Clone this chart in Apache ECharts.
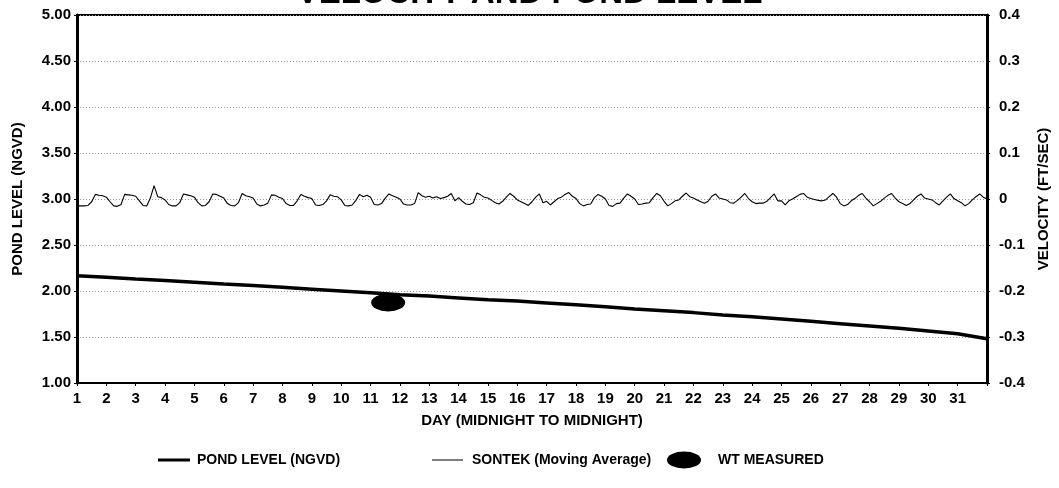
<!DOCTYPE html>
<html>
<head>
<meta charset="utf-8">
<script src="https://cdn.jsdelivr.net/npm/echarts@6/dist/echarts.min.js"></script>
<style>
html,body{margin:0;padding:0;background:#fff;}
#chart{width:1059px;height:488px;}
</style>
</head>
<body>
<div id="chart"></div>
<script>
// ---- data ----
const dayTicks = [1,2,3,4,5,6,7,8,9,10,11,12,13,14,15,16,17,18,19,20,21,22,23,24,25,26,27,28,29,30,31];
// pond level (NGVD) at midnight of each day, day 1 .. day 32 (end of day 31)
const pondDays = [1,2,3,4,5,6,7,8,9,10,11,12,13,14,15,16,17,18,19,20,21,22,23,24,25,26,27,28,29,30,31,32];
const pondLevel = [2.165,2.15,2.13,2.115,2.095,2.075,2.06,2.04,2.02,2.0,1.98,1.96,1.945,1.925,1.905,1.89,
                   1.87,1.85,1.83,1.805,1.785,1.765,1.74,1.72,1.695,1.67,1.645,1.62,1.595,1.565,1.535,1.48];
// SONTEK moving-average velocity (ft/sec), 8 readings per day (every 3 h), day 1 00:00 .. day 32 00:00
const sontekStep = 0.125;
const sontekVelocity = [
 -0.015,-0.015,-0.015,-0.014,-0.006, 0.010, 0.008, 0.007,   // day 1
  0.004,-0.006,-0.015,-0.016,-0.012, 0.010, 0.009, 0.008,   // day 2
  0.006,-0.004,-0.014,-0.015, 0.002, 0.029, 0.005, 0.003,   // day 3
 -0.002,-0.012,-0.015,-0.015,-0.008, 0.011, 0.009, 0.007,   // day 4
  0.004,-0.008,-0.015,-0.014,-0.006, 0.011, 0.010, 0.006,   // day 5
  0.002,-0.010,-0.014,-0.015,-0.008, 0.012, 0.007, 0.005,   // day 6
  0.002,-0.011,-0.015,-0.013,-0.009, 0.009, 0.008, 0.004,   // day 7
  0.001,-0.010,-0.014,-0.014,-0.004, 0.010, 0.006, 0.003,   // day 8
  0.001,-0.013,-0.014,-0.012,-0.004, 0.009, 0.006, 0.005,   // day 9
 -0.002,-0.014,-0.015,-0.013,-0.003, 0.010, 0.005, 0.008,   // day 10
  0.004,-0.012,-0.013,-0.010, 0.002, 0.011, 0.007, 0.004,   // day 11
  0.000,-0.011,-0.013,-0.013,-0.010, 0.014, 0.007, 0.004,   // day 12
  0.006, 0.002, 0.005, 0.001, 0.003, 0.006, 0.012,-0.004,   // day 13
  0.003,-0.005,-0.011,-0.012,-0.008, 0.013, 0.009, 0.004,   // day 14
  0.002,-0.003,-0.008,-0.011,-0.005, 0.004, 0.012, 0.006,   // day 15
 -0.002,-0.006,-0.010,-0.014,-0.006, 0.004, 0.011,-0.008,   // day 16
 -0.005,-0.013,-0.006, 0.001, 0.004, 0.010, 0.014, 0.006,   // day 17
  0.001,-0.010,-0.015,-0.012,-0.011, 0.003, 0.010, 0.006,   // day 18
  0.000,-0.014,-0.016,-0.010,-0.009, 0.002, 0.011, 0.006,   // day 19
  0.000,-0.012,-0.011,-0.009,-0.008, 0.003, 0.012, 0.007,   // day 20
 -0.005,-0.015,-0.010,-0.004,-0.002, 0.006, 0.013, 0.005,   // day 21
  0.002,-0.002,-0.006,-0.009,-0.005, 0.006, 0.011, 0.002,   // day 22
  0.000,-0.002,-0.008,-0.009,-0.003, 0.004, 0.012, 0.001,   // day 23
 -0.006,-0.010,-0.009,-0.009,-0.005, 0.003, 0.011,-0.004,   // day 24
 -0.004,-0.013,-0.004, 0.000, 0.005, 0.010, 0.012, 0.004,   // day 25
  0.001,-0.001,-0.003,-0.004,-0.002, 0.005, 0.012, 0.004,   // day 26
 -0.010,-0.015,-0.012,-0.004, 0.001, 0.008, 0.012, 0.002,   // day 27
 -0.006,-0.015,-0.010,-0.005, 0.002, 0.008, 0.012, 0.002,   // day 28
 -0.006,-0.010,-0.014,-0.010,-0.002, 0.006, 0.011, 0.002,   // day 29
  0.000,-0.002,-0.008,-0.013,-0.004, 0.004, 0.011, 0.001,   // day 30
 -0.004,-0.008,-0.015,-0.010,-0.002, 0.005, 0.011, 0.004,   // day 31
  0.000                                                     // day 32 00:00
];
// WT measured point
const wtDay = [11.6];
const wtLevel = [1.875];

const titleText = 'VELOCITY AND POND LEVEL';
const legendNames = ['POND LEVEL (NGVD)', 'SONTEK (Moving Average)', 'WT MEASURED'];

// ---- build series data ----
const pondData = pondDays.map((d, i) => [d, pondLevel[i]]);
const sontekData = sontekVelocity.map((v, i) => [dayTicks[0] + i * sontekStep, v]);
const wtData = wtDay.map((d, i) => [d, wtLevel[i]]);

const FONT = '"Liberation Sans", Arial, Helvetica, sans-serif';
const tickLbl = {color: '#000', fontWeight: 'bold', fontSize: 15, fontFamily: FONT};
const nameLbl = {color: '#000', fontWeight: 'bold', fontSize: 15, fontFamily: FONT};

const chart = echarts.init(document.getElementById('chart'), null, {renderer: 'canvas'});
chart.setOption({
  animation: false,
  backgroundColor: '#fff',
  title: {
    text: titleText, left: 'center', top: -23, padding: 0,
    textStyle: {fontSize: 33, fontWeight: 'bold', color: '#000', fontFamily: FONT}
  },
  grid: {left: 77, right: 72, top: 15, bottom: 105, containLabel: false, outerBoundsMode: 'none',
         show: true, borderColor: '#000', borderWidth: 2, backgroundColor: 'transparent'},
  xAxis: {
    type: 'value', min: 1, max: 32, interval: 1,
    name: 'DAY (MIDNIGHT TO MIDNIGHT)', nameLocation: 'middle', nameGap: 30,
    nameTextStyle: nameLbl,
    axisLine: {show: true, onZero: false, lineStyle: {color: '#000', width: 2}},
    axisTick: {show: true, length: 3, lineStyle: {color: '#000'}},
    axisLabel: Object.assign({margin: 8, formatter: v => (v <= 31 ? String(v) : '')}, tickLbl),
    splitLine: {show: false}
  },
  yAxis: [
    {
      type: 'value', min: 1, max: 5, interval: 0.5, position: 'left',
      name: 'POND LEVEL (NGVD)', nameLocation: 'middle', nameGap: 52, nameRotate: 90,
      nameTextStyle: nameLbl,
      axisLine: {show: true, lineStyle: {color: '#000', width: 3}},
      axisTick: {show: true, length: 3, lineStyle: {color: '#000'}},
      axisLabel: Object.assign({margin: 6, formatter: v => v.toFixed(2)}, tickLbl),
      splitLine: {show: true, lineStyle: {color: '#9a9a9a', width: 1, type: [1, 2]}}
    },
    {
      type: 'value', min: -0.4, max: 0.4, interval: 0.1, position: 'right',
      name: 'VELOCITY (FT/SEC)', nameLocation: 'middle', nameGap: 49, nameRotate: 90,
      nameTextStyle: nameLbl,
      axisLine: {show: true, lineStyle: {color: '#000', width: 3}},
      axisTick: {show: true, length: 3, lineStyle: {color: '#000'}},
      axisLabel: Object.assign({margin: 12, formatter: v => { const r = Math.round(v * 10) / 10; return r === 0 ? '0' : r.toFixed(1); }}, tickLbl),
      splitLine: {show: false}
    }
  ],
  series: [
    {
      name: legendNames[1], type: 'line', yAxisIndex: 1, data: sontekData,
      showSymbol: false, symbol: 'none', lineStyle: {color: '#000', width: 1.1}, z: 2
    },
    {
      name: legendNames[0], type: 'line', yAxisIndex: 0, data: pondData,
      showSymbol: false, symbol: 'none', lineStyle: {color: '#000', width: 3.5}, z: 3
    },
    {
      name: legendNames[2], type: 'scatter', yAxisIndex: 0, data: wtData,
      symbol: 'circle', symbolSize: [34, 18], itemStyle: {color: '#000', opacity: 1}, z: 4
    }
  ],
  graphic: [
    {type: 'line', shape: {x1: 158, y1: 460, x2: 190, y2: 460}, style: {stroke: '#000', lineWidth: 3}},
    {type: 'text', x: 197, y: 460, style: {text: legendNames[0], fill: '#000', font: 'bold 14px ' + FONT, verticalAlign: 'middle'}},
    {type: 'line', shape: {x1: 432, y1: 460, x2: 463, y2: 460}, style: {stroke: '#000', lineWidth: 1}},
    {type: 'text', x: 472, y: 460, style: {text: legendNames[1], fill: '#000', font: 'bold 14px ' + FONT, verticalAlign: 'middle'}},
    {type: 'circle', x: 684, y: 460, scaleX: 2, scaleY: 1, shape: {cx: 0, cy: 0, r: 8.5}, style: {fill: '#000'}},
    {type: 'text', x: 718, y: 460, style: {text: legendNames[2], fill: '#000', font: 'bold 14px ' + FONT, verticalAlign: 'middle'}}
  ]
});
</script>
</body>
</html>
